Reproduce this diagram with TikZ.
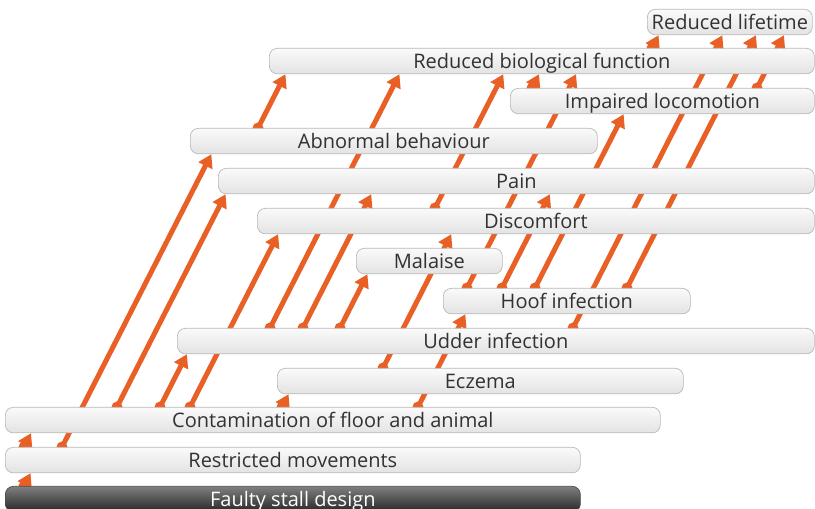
\documentclass[tikz,border=0pt]{standalone}
\usepackage{fontspec}
\setmainfont{Open Sans}
\usetikzlibrary{arrows.meta, calc, backgrounds}
\definecolor{linkorange}{RGB}{232,96,38}
\definecolor{boxtext}{RGB}{50,50,50}
\tikzset{
    x=1pt, y=1pt,
    effect/.style={draw=gray!55, line width=0.7pt, rounded corners=8pt,
        top color=gray!4, bottom color=gray!22, anchor=north west,
        minimum height=25.5pt, inner sep=0pt, text=boxtext,
        font=\fontsize{20}{22}\selectfont, text height=14pt, text depth=0pt},
    rootcause/.style={effect, top color=black!50, bottom color=black!85,
        text=white, draw=black!70},
    link/.style={draw=linkorange, line width=5pt,
        -{Triangle[width=15pt,length=13pt]}},
}
% tail x, from, to
\newcommand{\cause}[3]{%
    \fill[linkorange] let \p1=(#2.north) in (#1,\y1) circle (5.5pt);
    \draw[link] let \p1=(#2.north), \p2=(#3.south) in
        (#1,\y1) -- ({#1+0.51*(\y2-\y1)},\y2);
}

\begin{document}
\begin{tikzpicture}
    \useasboundingbox (0,0) rectangle (815,509);

    \node[rootcause, minimum width=575pt] (faulty) at (5,23) {Faulty stall design};
    \node[effect, minimum width=575pt] (restricted) at (5,62) {Restricted movements};
    \node[effect, minimum width=655pt] (contamination) at (5,102) {Contamination of floor and animal};
    \node[effect, minimum width=406pt] (eczema) at (277,141) {Eczema};
    \node[effect, minimum width=637pt] (udder) at (177,181) {Udder infection};
    \node[effect, minimum width=247pt] (hoof) at (443,221) {Hoof infection};
    \node[effect, minimum width=146pt] (malaise) at (356,261) {Malaise};
    \node[effect, minimum width=557pt] (discomfort) at (257,301) {Discomfort};
    \node[effect, minimum width=596pt] (pain) at (218,341) {Pain};
    \node[effect, minimum width=407pt] (abnormal) at (190,381) {Abnormal behaviour};
    \node[effect, minimum width=304pt] (impaired) at (510,421) {Impaired locomotion};
    \node[effect, minimum width=545pt] (biological) at (269,461) {Reduced biological function};
    \node[effect, minimum width=165pt] (lifetime) at (647,500) {Reduced lifetime};

    \begin{scope}[on background layer]
        \cause{24}{faulty}{restricted}
        \cause{24}{restricted}{contamination}
        \cause{62}{restricted}{abnormal}
        \cause{117}{contamination}{pain}
        \cause{160}{contamination}{udder}
        \cause{190}{contamination}{discomfort}
        \cause{282}{contamination}{eczema}
        \cause{418}{contamination}{hoof}
        \cause{383}{eczema}{discomfort}
        \cause{270}{udder}{biological}
        \cause{303}{udder}{pain}
        \cause{340}{udder}{malaise}
        \cause{573}{udder}{lifetime}
        \cause{467}{hoof}{biological}
        \cause{502}{hoof}{pain}
        \cause{535}{hoof}{impaired}
        \cause{627}{hoof}{lifetime}
        \cause{435}{discomfort}{biological}
        \cause{258}{abnormal}{biological}
        \cause{532}{impaired}{biological}
        \cause{757}{impaired}{lifetime}
        \cause{652}{biological}{lifetime}
    \end{scope}
\end{tikzpicture}
\end{document}
